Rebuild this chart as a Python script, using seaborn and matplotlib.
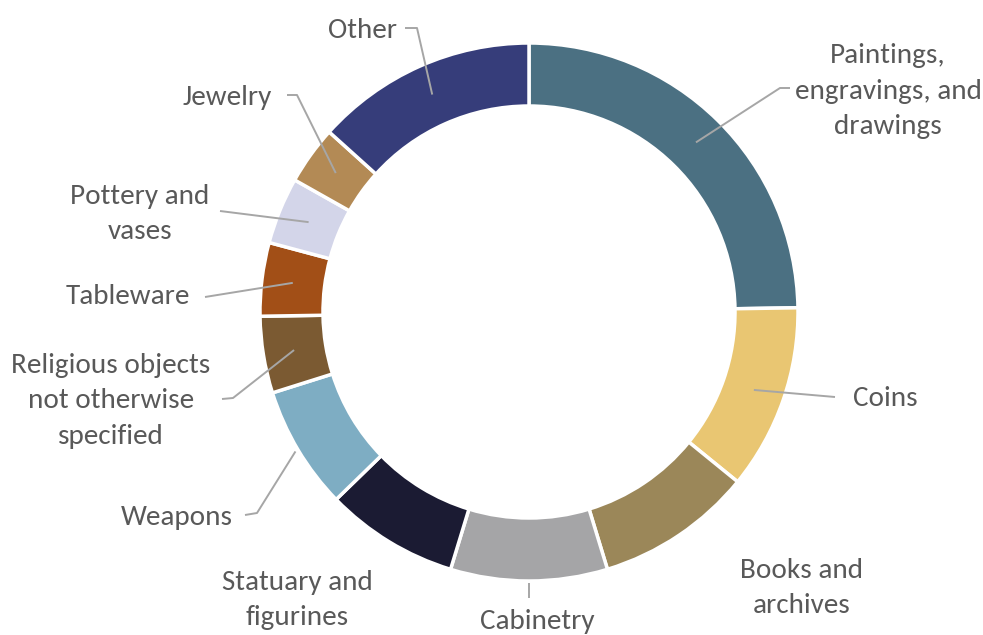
import matplotlib
matplotlib.use("Agg")
import matplotlib.pyplot as plt
import seaborn as sns
import numpy as np
from matplotlib import font_manager

# ---- data ----
categories = [
    "Paintings,\nengravings, and\ndrawings",
    "Coins",
    "Books and\narchives",
    "Cabinetry",
    "Statuary and\nfigurines",
    "Weapons",
    "Religious objects\nnot otherwise\nspecified",
    "Tableware",
    "Pottery and\nvases",
    "Jewelry",
    "Other",
]
shares = [24.7, 11.1, 9.4, 9.4, 8.0, 7.4, 4.6, 4.4, 4.0, 3.5, 13.3]
colors = ["#4B7082", "#E9C672", "#9B8759", "#A5A5A7", "#1B1B33", "#7EADC3",
          "#7B5A32", "#A24F17", "#D3D5E9", "#B38A55", "#363D7A"]

# ---- layout (pixel coords, y down) ----
text_pos = [(888, 91), (853, 398), (802, 588), (537, 621), (297, 600), (233, 517),
            (111, 401), (190, 297), (140, 214), (272, 98), (397, 30)]
text_ha = ["center", "left", "center", "center", "center", "right",
           "center", "right", "center", "right", "right"]
leader_r0 = [238, 238, None, 271, None, 272, 238, 238, 238, 238, 238]
leader_path = [[(780, 88), (790, 88)], [(835, 397)], None, [(None, 598)], None,
               [(257, 513), (245, 515)], [(233, 398), (222, 399)], [(205, 297)],
               [(220, 211)], [(297, 95), (287, 95)], [(417, 28), (405, 28)]]

W, H = 983, 635
CX, CY, R, RW = 529, 312, 269, 63

sns.set_theme(style="white")
names = {f.name for f in font_manager.fontManager.ttflist}
fam = "Carlito" if "Carlito" in names else "Lato"
plt.rcParams["font.family"] = [fam, "DejaVu Sans"]

fig = plt.figure(figsize=(W / 100, H / 100), dpi=100)
ax = fig.add_axes([0, 0, 1, 1])
palette = sns.color_palette(colors)
ax.pie(shares, colors=palette, startangle=-90, counterclock=True,
       center=(CX, CY), radius=R,
       wedgeprops=dict(width=RW, edgecolor="white", linewidth=2.5))
ax.set_xlim(0, W)
ax.set_ylim(H, 0)
ax.set_aspect("equal")
ax.axis("off")

total = sum(shares)
bounds = 90 - np.concatenate([[0], np.cumsum(shares)]) * 360 / total
mids = (bounds[:-1] + bounds[1:]) / 2

txt_color = "#595959"
line_color = "#A6A6A6"
for i, lab in enumerate(categories):
    tx, ty = text_pos[i]
    ax.text(tx, ty, lab, ha=text_ha[i], va="center", fontsize=21,
            color=txt_color, linespacing=1.52, multialignment="center")
    if leader_r0[i] is not None:
        a = np.deg2rad(mids[i])
        x0 = CX + leader_r0[i] * np.cos(a)
        y0 = CY - leader_r0[i] * np.sin(a)
        xs, ys = [x0], [y0]
        for (px, py) in leader_path[i]:
            xs.append(x0 if px is None else px)
            ys.append(py)
        ax.plot(xs, ys, color=line_color, lw=1.4, solid_capstyle="butt")

fig.savefig("out.png", dpi=100, facecolor="white")
